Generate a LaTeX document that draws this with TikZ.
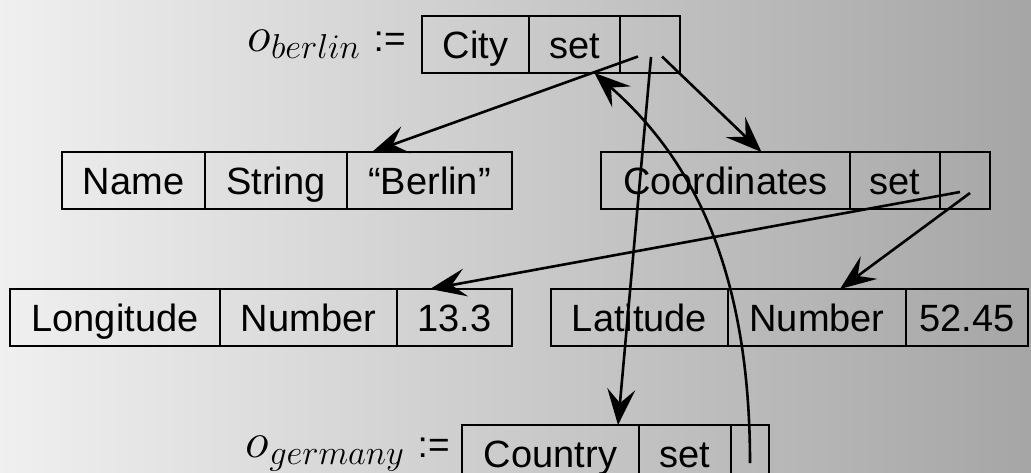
\documentclass[tikz,border=0pt]{standalone}
\usepackage{fontspec}
\setmainfont{Liberation Sans}
\usetikzlibrary{positioning,arrows.meta}
\tikzset{
    cell/.style={draw, line width=1pt, minimum height=28.5pt, inner sep=0pt, outer sep=0pt,
        text height=15.5pt, text depth=2pt, anchor=west, font=\fontsize{19}{21}\selectfont},
    oname/.style={font=\fontsize{19}{21}\selectfont, inner sep=0pt},
    ptr/.style={line width=1.3pt, -{Stealth[length=18pt,width=14pt,inset=7pt]}}
}
\begin{document}
\begin{tikzpicture}[x=0.5pt,y=-0.5pt]
    \clip (0,0) rectangle (1031,472);
    \shade[left color=black!6, right color=black!35] (0,0) rectangle (1031,472);
    % o_berlin
    \node[cell, minimum width=53.5pt] (city) at (422,44.5) {City};
    \node[cell, minimum width=45.5pt, right=0pt of city] (cityset) {set};
    \node[cell, minimum width=30pt, right=0pt of cityset] (cityptr) {};
    \node[oname, left=8pt of city] (oberlin) {\fontsize{23}{24}\selectfont$o_{berlin}$ \fontsize{18.5}{20}\selectfont:=};
    % name and coordinates
    \node[cell, minimum width=71.5pt] (name) at (62,180.5) {Name};
    \node[cell, minimum width=71pt, right=0pt of name] (namestr) {String};
    \node[cell, minimum width=82.5pt, right=0pt of namestr] (nameval) {``Berlin''};
    \node[cell, minimum width=124.5pt] (coord) at (601,180.5) {Coordinates};
    \node[cell, minimum width=45pt, right=0pt of coord] (coordset) {set};
    \node[cell, minimum width=25pt, right=0pt of coordset] (coordptr) {};
    % longitude and latitude
    \node[cell, minimum width=105pt] (lon) at (10,317.5) {Longitude};
    \node[cell, minimum width=88.5pt, right=0pt of lon] (lonnum) {Number};
    \node[cell, minimum width=57.5pt, right=0pt of lonnum] (lonval) {13.3};
    \node[cell, minimum width=88.5pt] (lat) at (551,317.5) {Latitude};
    \node[cell, minimum width=89pt, right=0pt of lat] (latnum) {Number};
    \node[cell, minimum width=61pt, right=0pt of latnum] (latval) {52.45};
    % o_germany
    \node[cell, minimum width=88.5pt] (country) at (462,453.5) {Country};
    \node[cell, minimum width=46pt, right=0pt of country] (countryset) {set};
    \node[cell, minimum width=19pt, right=0pt of countryset] (countryptr) {};
    \node[oname, left=6pt of country] (ogermany) {\fontsize{23}{24}\selectfont$o_{germany}$ \fontsize{18.5}{20}\selectfont:=};
    % pointers
    \coordinate (p1) at ([shift={(-12,12)}]cityptr.center);
    \coordinate (p2) at ([shift={(1,12.5)}]cityptr.center);
    \coordinate (p3) at ([shift={(12,12)}]cityptr.center);
    \coordinate (p4) at ([shift={(-5,11.5)}]coordptr.center);
    \coordinate (p5) at ([shift={(5,12.5)}]coordptr.center);
    \coordinate (p6) at ([shift={(0,9.5)}]countryptr.center);
    \draw[ptr] (p1) -- ([xshift=12.5pt]nameval.north west);
    \draw[ptr] (p2) -- ([xshift=-10.5pt]country.north east);
    \draw[ptr] (p3) -- ([xshift=18pt]coord.north);
    \draw[ptr] (p4) -- ([xshift=16.5pt]lonval.north west);
    \draw[ptr] (p5) -- ([xshift=11.5pt]latnum.north);
    \draw[ptr] (p6) .. controls +(0,-213) and +(85,75) .. ([xshift=10pt]cityset.south);
\end{tikzpicture}
\end{document}
